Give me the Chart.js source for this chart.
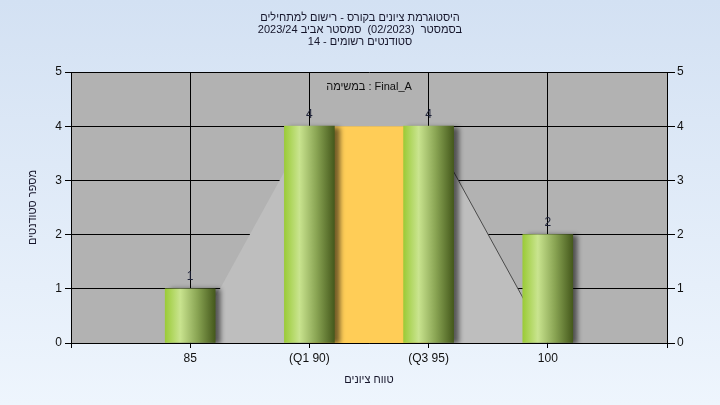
<!DOCTYPE html>
<html>
<head>
<meta charset="utf-8">
<script src="https://cdn.jsdelivr.net/npm/chart.js@4/dist/chart.umd.min.js"></script>
<style>
  html, body { margin: 0; padding: 0; }
  body { width: 720px; height: 405px; background: linear-gradient(#d3e1f3, #eef5fd); overflow: hidden; }
  canvas { display: block; }
</style>
</head>
<body>
<canvas id="histChart" width="720" height="405" dir="rtl"></canvas>
<script>
/* histogram data */
const categories = ['85', '(Q1 90)', '(Q3 95)', '100'];
const counts = [1, 4, 4, 2];
const spreadShape = [0, 4, 4, 0];      // grey band 85 -> Q1 -> Q3 -> 100
const quartileBox = [null, 4, 4, null]; // orange box between Q1 and Q3
const yTicks = [0, 1, 2, 3, 4, 5];

const titleLines = [
    'היסטוגרמת ציונים בקורס - רישום למתחילים',
    'בסמסטר  (02/2023)  סמסטר אביב 2023/24',
    'סטודנטים רשומים - 14'
];
const taskLabel = 'במשימה : Final_A';
const yTitle = 'מספר סטודנטים';
const xTitle = 'טווח ציונים';

const FONT = "'Liberation Sans', Arial, sans-serif";

// pad with empty slots so the categories sit at 1..4 of a 0..5 axis
const pad = arr => [null, ...arr, null];
const labels = ['', ...categories, ''];

/* plot background + bar shadow + value labels */
const plotDecor = {
    id: 'plotDecor',
    beforeDraw(chart) {
        const { ctx, chartArea: a } = chart;
        ctx.save();
        ctx.fillStyle = '#b2b2b2';
        ctx.fillRect(a.left, a.top, a.right - a.left, a.bottom - a.top);
        ctx.restore();
    },
    beforeDatasetDraw(chart, args) {
        if (args.index !== 0) return;
        const ctx = chart.ctx;
        ctx.save();
        ctx.shadowColor = 'rgba(0,0,0,0.55)';
        ctx.shadowOffsetX = 5;
        ctx.shadowOffsetY = 1;
        ctx.shadowBlur = 5;
    },
    afterDatasetDraw(chart, args) {
        if (args.index !== 0) return;
        chart.ctx.restore();
    },
    afterDatasetsDraw(chart) {
        const { ctx, chartArea: a } = chart;
        ctx.save();
        ctx.font = '12px ' + FONT;
        ctx.fillStyle = '#1e2238';
        ctx.textAlign = 'center';
        ctx.textBaseline = 'middle';
        ctx.direction = 'ltr';
        chart.getDatasetMeta(0).data.forEach((bar, i) => {
            const v = chart.data.datasets[0].data[i];
            if (v == null) return;
            ctx.fillText(String(v), bar.x, bar.y - 12);
        });
        ctx.font = '11px ' + FONT;
        ctx.fillStyle = '#111';
        ctx.fillText(taskLabel, (a.left + a.right) / 2, a.top + 15);
        ctx.restore();
    }
};

function barGradient(c) {
    const chart = c.chart;
    if (!chart.chartArea) return '#9acb3a';
    const x = chart.scales.x.getPixelForValue(c.dataIndex);
    const g = chart.ctx.createLinearGradient(x - 25, 0, x + 25, 0);
    g.addColorStop(0, '#9bcb38');
    g.addColorStop(0.3, '#c9e48f');
    g.addColorStop(0.65, '#88a352');
    g.addColorStop(1, '#45591c');
    return g;
}

new Chart(document.getElementById('histChart'), {
    type: 'bar',
    data: {
        labels: labels,
        datasets: [
            {
                label: 'students',
                data: pad(counts),
                backgroundColor: barGradient,
                borderWidth: 0,
                barThickness: 50,
                yAxisID: 'y',
                order: 0
            },
            {
                type: 'line',
                label: 'quartiles',
                data: pad(quartileBox),
                borderWidth: 0,
                borderColor: 'rgba(0,0,0,0)',
                backgroundColor: '#ffcd57',
                fill: 'origin',
                pointRadius: 0,
                yAxisID: 'y',
                order: 1
            },
            {
                type: 'line',
                label: 'spread',
                data: pad(spreadShape),
                borderWidth: 1,
                backgroundColor: '#bebebe',
                fill: 'origin',
                pointRadius: 0,
                tension: 0,
                segment: {
                    borderColor: s => s.p0DataIndex === 3 ? '#4a4a4a' : 'rgba(0,0,0,0)'
                },
                yAxisID: 'y',
                order: 2
            }
        ]
    },
    options: {
        responsive: false,
        animation: false,
        layout: { padding: 0 },
        plugins: {
            legend: { display: false },
            tooltip: { enabled: false },
            title: {
                display: true,
                text: titleLines,
                color: '#15152a',
                font: { family: FONT, size: 11, weight: 'normal', lineHeight: '12px' },
                padding: { top: 12, bottom: 24 }
            }
        },
        scales: {
            x: {
                type: 'category',
                offset: false,
                grid: { color: '#000', offset: false, tickLength: 5, tickColor: '#000' },
                border: { color: '#000' },
                ticks: { color: '#111', font: { family: FONT, size: 12 }, padding: 3, autoSkip: false, maxRotation: 0 },
                title: {
                    display: true,
                    text: xTitle,
                    color: '#15152a',
                    font: { family: FONT, size: 11, lineHeight: '12px' },
                    padding: { top: 0, bottom: 19 }
                },
                afterFit(scale) { scale.height = 62; }
            },
            y: {
                position: 'left',
                min: 0,
                max: 5,
                afterBuildTicks(scale) { scale.ticks = yTicks.map(v => ({ value: v })); },
                grid: { color: '#000', tickLength: 6, tickColor: '#000' },
                border: { color: '#000' },
                ticks: { color: '#111', font: { family: FONT, size: 12 }, padding: 3 },
                title: {
                    display: true,
                    text: yTitle,
                    color: '#15152a',
                    font: { family: FONT, size: 11, lineHeight: '12px' },
                    padding: { top: 27, bottom: 0 }
                },
                afterFit(scale) { scale.width = 71; }
            },
            y2: {
                position: 'right',
                min: 0,
                max: 5,
                afterBuildTicks(scale) { scale.ticks = yTicks.map(v => ({ value: v })); },
                grid: { drawOnChartArea: false, tickLength: 8, color: '#000', tickColor: '#000' },
                border: { color: '#000' },
                ticks: { color: '#111', font: { family: FONT, size: 12 }, padding: 2 },
                afterFit(scale) { scale.width = 53; }
            }
        }
    },
    plugins: [plotDecor]
});
</script>
</body>
</html>
